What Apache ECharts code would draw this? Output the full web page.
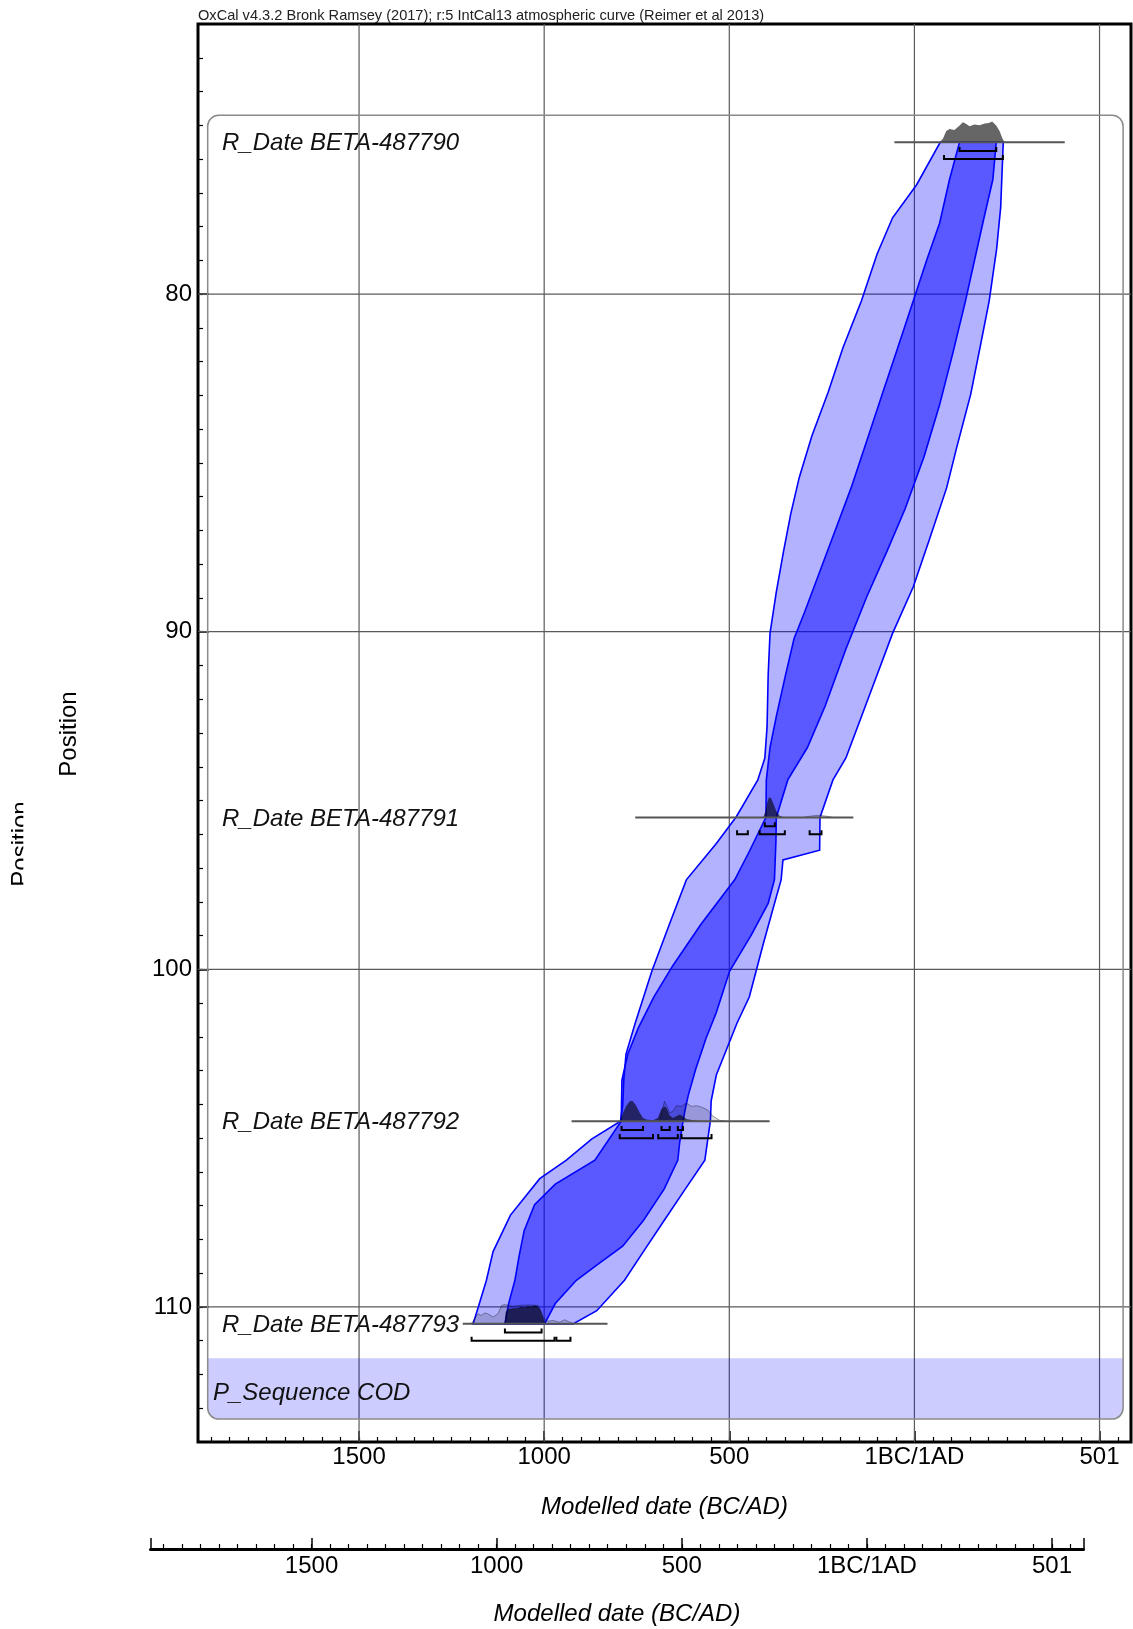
<!DOCTYPE html>
<html><head><meta charset="utf-8">
<script src="https://cdn.jsdelivr.net/npm/echarts@6/dist/echarts.min.js"></script>
<style>html,body{margin:0;padding:0;background:#fff}#c{width:1133px;height:1629px}</style>
</head><body><div id="c"></div>
<script>
// ---------- data ----------
const xTickValues = [-1500, -1000, -500, 0, 500];
const xTickLabels = ['1500', '1000', '500', '1BC/1AD', '501'];
const yTickValues = [80, 90, 100, 110];
const yTickLabels = ['80', '90', '100', '110'];

const dateNames = ['R_Date BETA-487790', 'R_Date BETA-487791', 'R_Date BETA-487792', 'R_Date BETA-487793'];
const datePositions = [75.5, 95.5, 104.5, 110.5];
const dateLineRanges = [[-54, 406], [-754, -165], [-926, -391], [-1220, -829]];
const ranges68 = [
  [[122, 221]],
  [[-404, -377]],
  [[-791, -733], [-683, -661], [-639, -625]],
  [[-1106, -1007]]
];
const ranges95 = [
  [[80, 239]],
  [[-479, -450], [-418, -350], [-283, -251]],
  [[-796, -706], [-692, -639], [-629, -548]],
  [[-1196, -972], [-967, -929]]
];

// posterior / prior density outlines [year, position]
const posterior790 = [[68,75.5],[77,75.40],[86,75.17],[95,75.11],[108,75.14],[122,75.01],[131,74.91],[138,74.95],[149,75.03],[162,74.98],[176,75.00],[190,74.95],[201,74.93],[210,74.89],[221,75.01],[230,75.17],[237,75.37],[243,75.5]];
const posterior791 = [[-409,95.5],[-402,95.32],[-398,95.08],[-393,94.90],[-387,94.93],[-380,95.12],[-373,95.32],[-364,95.45],[-350,95.5]];
const prior791 = [[-300,95.5],[-280,95.46],[-260,95.44],[-240,95.46],[-220,95.5]];
const posterior792 = [[-796,104.5],[-787,104.25],[-778,104.04],[-769,103.91],[-762,103.89],[-753,104.01],[-742,104.25],[-733,104.40],[-724,104.45],[-706,104.47],[-693,104.40],[-684,104.15],[-676,104.06],[-670,104.10],[-661,104.33],[-652,104.40],[-643,104.35],[-634,104.30],[-625,104.35],[-616,104.43],[-598,104.47],[-580,104.49],[-544,104.5]];
const prior792 = [[-688,104.5],[-681,104.15],[-675,103.91],[-668,104.06],[-661,104.25],[-652,104.20],[-643,104.04],[-629,104.06],[-616,103.96],[-602,104.06],[-589,104.04],[-575,104.08],[-558,104.17],[-544,104.35],[-526,104.47],[-508,104.5]];
const posterior793 = [[-1107,110.5],[-1104,110.15],[-1098,110.06],[-1084,110.04],[-1071,110.03],[-1062,109.99],[-1053,110.01],[-1044,109.97],[-1034,109.99],[-1026,109.95],[-1017,109.99],[-1010,110.09],[-1003,110.30],[-999,110.45],[-994,110.5]];
const prior793 = [[-1197,110.5],[-1188,110.35],[-1179,110.20],[-1170,110.25],[-1161,110.18],[-1152,110.20],[-1138,110.30],[-1125,110.20],[-1115,109.96],[-1107,109.93],[-1085,109.98],[-1062,109.95],[-1040,109.94],[-1017,109.96],[-1010,110.09],[-1003,110.30],[-990,110.42],[-976,110.40],[-958,110.45],[-945,110.38],[-931,110.45],[-918,110.5]];

// modelled age-depth envelopes [year, position]
const outerBand = [[70,75.5],[240,75.5],[233,77.43],[222,78.67],[202,80.20],[180,81.43],[152,82.97],[115,84.51],[87,85.74],[40,87.28],[-3,88.67],[-59,90.05],[-101,91.28],[-143,92.51],[-185,93.74],[-220,94.39],[-255,95.50],[-256,96.47],[-355,96.76],[-360,97.35],[-378,98.05],[-409,99.28],[-446,100.82],[-479,101.59],[-507,102.36],[-535,103.13],[-549,103.90],[-551,104.48],[-566,105.65],[-619,106.51],[-676,107.44],[-732,108.36],[-783,109.21],[-858,110.11],[-922,110.5],[-1192,110.5],[-1175,109.90],[-1156,109.21],[-1138,108.36],[-1091,107.28],[-1012,106.20],[-940,105.65],[-872,105.03],[-794,104.5],[-788,104.05],[-785,103.28],[-779,102.51],[-754,101.59],[-709,100.05],[-662,98.67],[-616,97.35],[-535,96.27],[-481,95.48],[-423,94.39],[-404,93.74],[-398,92.82],[-395,91.28],[-390,90.05],[-373,88.82],[-353,87.59],[-334,86.51],[-311,85.43],[-277,84.20],[-233,82.91],[-193,81.59],[-143,80.20],[-101,78.82],[-59,77.74],[6,76.76]];
const innerBand = [[122,75.5],[221,75.5],[212,76.60],[188,77.74],[166,78.82],[138,80.20],[104,81.74],[68,83.28],[26,84.82],[-25,86.36],[-73,87.59],[-129,88.97],[-185,90.51],[-241,92.20],[-289,93.43],[-342,94.39],[-373,95.5],[-374,96.20],[-378,97.34],[-395,98.05],[-440,98.97],[-499,100.05],[-535,101.28],[-563,102.05],[-591,102.97],[-611,103.74],[-619,104.14],[-625,104.5],[-634,105.13],[-639,105.65],[-676,106.51],[-732,107.44],[-788,108.20],[-858,108.76],[-913,109.21],[-970,109.90],[-999,110.5],[-1106,110.5],[-1096,109.90],[-1079,109.21],[-1068,108.51],[-1054,107.74],[-1026,106.97],[-970,106.36],[-863,105.65],[-792,104.5],[-790,103.28],[-774,102.51],[-746,101.74],[-704,100.82],[-653,99.90],[-577,98.67],[-485,97.34],[-446,96.51],[-401,95.5],[-400,94.39],[-390,93.43],[-373,92.51],[-348,91.28],[-325,90.20],[-297,89.43],[-255,88.20],[-213,86.97],[-171,85.74],[-129,84.36],[-87,82.97],[-45,81.59],[-3,80.20],[34,78.97],[68,77.90],[95,76.60]];

// ---------- helpers ----------
const FONT = 'Liberation Sans, Arial, sans-serif';
const X_MIN = -1935, X_MAX = 585, Y_MIN = 72, Y_MAX = 114;
const xMinorTicks = []; for (let v = -1900; v <= 550; v += 50) xMinorTicks.push(v);
const yMinorTicks = []; for (let v = 73; v <= 113; v++) yMinorTicks.push(v);

function polySeries(name, pts, style, z) {
  return {
    type: 'custom', name, xAxisIndex: 0, yAxisIndex: 0, z, silent: true,
    data: pts, encode: {x: 0, y: 1},
    renderItem(params, api) {
      if (params.dataIndex !== 0) return null;
      return {type: 'polygon', shape: {points: pts.map(p => api.coord(p))}, style};
    }
  };
}

const gridLineRows = xTickValues.map(v => [v, Y_MIN, v, Y_MAX]).concat(yTickValues.map(v => [X_MIN, v, X_MAX, v]));
const dateLineRows = dateLineRanges.map((r, i) => [r[0], datePositions[i], r[1], datePositions[i]]);
const bracketRows = [];
ranges68.forEach((list, i) => list.forEach(r => bracketRows.push([r[0], r[1], datePositions[i] + 0.26])));
ranges95.forEach((list, i) => list.forEach(r => bracketRows.push([r[0], r[1], datePositions[i] + 0.5])));
const labelRows = dateNames.map((n, i) => [-1870, datePositions[i], n]);

function xAxisMain(gridIndex, withLabels) {
  return {
    type: 'value', gridIndex, min: X_MIN, max: X_MAX, position: 'bottom',
    axisLine: {show: gridIndex === 1, onZero: false, lineStyle: {color: '#000', width: 3}},
    axisTick: {show: true, inside: true, length: 11,
      customValues: gridIndex === 1 ? [X_MIN].concat(xTickValues, [X_MAX]) : xTickValues,
      lineStyle: {color: '#000', width: 1.5}},
    axisLabel: {show: withLabels, customValues: xTickValues, margin: gridIndex === 1 ? 5 : 3,
      formatter: v => xTickLabels[xTickValues.indexOf(v)],
      fontSize: 24, fontFamily: FONT, color: '#000'},
    splitLine: {show: false},
    name: 'Modelled date (BC/AD)', nameLocation: 'middle', nameGap: 53,
    nameTextStyle: {fontSize: 24, fontStyle: 'italic', fontFamily: FONT, color: '#000'}
  };
}
function xAxisMinor(gridIndex) {
  return {
    type: 'value', gridIndex, min: X_MIN, max: X_MAX, position: 'bottom',
    axisLine: {show: false, onZero: false}, axisLabel: {show: false}, splitLine: {show: false},
    axisTick: {show: true, inside: true, length: 5, customValues: xMinorTicks, lineStyle: {color: '#000', width: 1.2}}
  };
}

const option = {
  animation: false,
  backgroundColor: '#fff',
  grid: [
    {left: 198, top: 24, width: 933, height: 1418, show: true, borderColor: '#000', borderWidth: 3, backgroundColor: 'transparent'},
    {left: 150.5, top: 1499, width: 933, height: 50, show: false}
  ],
  xAxis: [xAxisMain(0, true), xAxisMinor(0), xAxisMain(1, true), xAxisMinor(1)],
  yAxis: [
    {type: 'value', gridIndex: 0, min: Y_MIN, max: Y_MAX, inverse: true, position: 'left',
      axisLine: {show: false, onZero: false}, splitLine: {show: false},
      axisTick: {show: true, inside: true, length: 11, customValues: yTickValues, lineStyle: {color: '#000', width: 1.5}},
      axisLabel: {show: true, customValues: yTickValues, margin: 6,
        formatter: v => yTickLabels[yTickValues.indexOf(v)], fontSize: 24, fontFamily: FONT, color: '#000'}},
    {type: 'value', gridIndex: 0, min: Y_MIN, max: Y_MAX, inverse: true, position: 'left',
      axisLine: {show: false, onZero: false}, splitLine: {show: false}, axisLabel: {show: false},
      axisTick: {show: true, inside: true, length: 5, customValues: yMinorTicks, lineStyle: {color: '#000', width: 1.2}}},
    {type: 'value', gridIndex: 1, show: false, min: 0, max: 1, axisLine: {onZero: false}}
  ],
  graphic: {elements: [
    {type: 'text', x: 198, y: 15.6, z: 5, style: {text: 'OxCal v4.3.2 Bronk Ramsey (2017); r:5 IntCal13 atmospheric curve (Reimer et al 2013)', fontSize: 14.6, fontFamily: FONT, fill: '#222', verticalAlign: 'middle', align: 'left'}},
    {type: 'text', x: 69, y: 734, rotation: Math.PI / 2, z: 5, style: {text: 'Position', fontSize: 24, fontFamily: FONT, fill: '#000', align: 'center', verticalAlign: 'middle'}},
    {type: 'text', x: 21, y: 844, rotation: Math.PI / 2, z: 1, style: {text: 'Position', fontSize: 24, fontFamily: FONT, fill: '#000', align: 'center', verticalAlign: 'middle'}},
    {type: 'rect', z: 2, shape: {x: 23.3, y: 780, width: 30, height: 130}, style: {fill: '#fff'}},
    {type: 'rect', z: 10, shape: {x: 207.7, y: 1358.3, width: 915.4, height: 60.8, r: [0, 0, 11, 11]}, style: {fill: 'rgba(0,0,255,0.2)'}},
    {type: 'rect', z: 11, shape: {x: 207.7, y: 115.3, width: 915.4, height: 1303.8, r: 11}, style: {fill: 'none', stroke: '#8a8a8a', lineWidth: 1.5}},
    {type: 'text', x: 213, y: 1393, z: 12, style: {text: 'P_Sequence COD', fontSize: 24, fontStyle: 'italic', fontFamily: FONT, fill: '#111', verticalAlign: 'middle', align: 'left'}}
  ]},
  series: [
    {type: 'custom', name: 'grid lines', xAxisIndex: 0, yAxisIndex: 0, z: 1, silent: true,
      data: gridLineRows,
      renderItem(params, api) {
        const a = api.coord([api.value(0), api.value(1)]), b = api.coord([api.value(2), api.value(3)]);
        return {type: 'line', shape: {x1: a[0], y1: a[1], x2: b[0], y2: b[1]}, style: {stroke: '#5a5a5a', lineWidth: 1.2}};
      }},
    polySeries('95.4% envelope', outerBand, {fill: 'rgba(0,0,255,0.3)', stroke: '#0000ff', lineWidth: 1.6}, 2),
    polySeries('68.2% envelope', innerBand, {fill: 'rgba(0,0,255,0.5)', stroke: '#0000ff', lineWidth: 1.6}, 3),
    polySeries('prior 791', prior791, {fill: 'rgba(0,0,0,0.15)', stroke: 'rgba(0,0,0,0.35)', lineWidth: 1}, 4),
    polySeries('prior 792', prior792, {fill: 'rgba(0,0,0,0.15)', stroke: 'rgba(0,0,0,0.35)', lineWidth: 1}, 4),
    polySeries('prior 793', prior793, {fill: 'rgba(0,0,0,0.15)', stroke: 'rgba(0,0,0,0.35)', lineWidth: 1}, 4),
    polySeries('posterior 790', posterior790, {fill: 'rgba(0,0,0,0.6)'}, 5),
    polySeries('posterior 791', posterior791, {fill: 'rgba(0,0,0,0.6)'}, 5),
    polySeries('posterior 792', posterior792, {fill: 'rgba(0,0,0,0.6)'}, 5),
    polySeries('posterior 793', posterior793, {fill: 'rgba(0,0,0,0.6)'}, 5),
    {type: 'custom', name: 'date lines', xAxisIndex: 0, yAxisIndex: 0, z: 6, silent: true,
      data: dateLineRows,
      renderItem(params, api) {
        const a = api.coord([api.value(0), api.value(1)]), b = api.coord([api.value(2), api.value(3)]);
        return {type: 'line', shape: {x1: a[0], y1: a[1], x2: b[0], y2: b[1]}, style: {stroke: '#555', lineWidth: 2}};
      }},
    {type: 'custom', name: 'ranges', xAxisIndex: 0, yAxisIndex: 0, z: 7, silent: true,
      data: bracketRows,
      renderItem(params, api) {
        const s = api.value(0), e = api.value(1), y = api.value(2);
        const pts = [api.coord([s, y - 0.12]), api.coord([s, y]), api.coord([e, y]), api.coord([e, y - 0.12])];
        return {type: 'polyline', shape: {points: pts}, style: {stroke: '#000', lineWidth: 2, fill: 'none'}};
      }},
    {type: 'custom', name: 'labels', xAxisIndex: 0, yAxisIndex: 0, z: 8, silent: true,
      data: labelRows,
      renderItem(params, api) {
        const p = api.coord([api.value(0), api.value(1)]);
        return {type: 'text', x: p[0], y: p[1] + 1.5, style: {text: labelRows[params.dataIndex][2], fontSize: 24, fontStyle: 'italic', fontFamily: FONT, fill: '#111', align: 'left', verticalAlign: 'middle'}};
      }}
  ]
};
const chart = echarts.init(document.getElementById('c'));
chart.setOption(option);
</script></body></html>
